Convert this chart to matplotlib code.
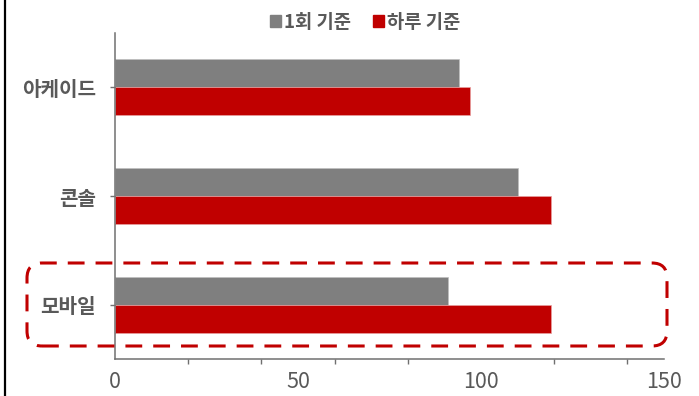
import matplotlib.pyplot as plt
from matplotlib.patches import Patch, FancyBboxPatch
from matplotlib.lines import Line2D
import numpy as np

plt.rcParams['font.family'] = ['Noto Sans CJK KR', 'DejaVu Sans']

categories = ['아케이드', '콘솔', '모바일']
series_names = ['1회 기준', '하루 기준']
once = [94, 110, 91]
daily = [97, 119, 119]
x_ticklabels = [0, 50, 100, 150]

gray = '#7f7f7f'
red = '#c00000'
text_col = '#595959'

fig = plt.figure(figsize=(6.99, 3.96), dpi=100)
ax = fig.add_axes([115 / 699, 1 - 359 / 396, (664 - 115) / 699, (359 - 33) / 396])

pos = np.arange(len(categories))
h = 0.258
ax.barh(pos - h / 2, once, height=h, color=gray, edgecolor='#bfbfbf', linewidth=0.5, label=series_names[0])
ax.barh(pos + h / 2, daily, height=h, color=red, edgecolor='#e8a0a0', linewidth=0.5, label=series_names[1])

ax.set_ylim(2.5, -0.5)
ax.set_xlim(0, 150)

ax.set_yticks(pos)
ax.set_yticklabels(categories, fontsize=14.5, fontweight='bold', color=text_col)
ax.tick_params(axis='y', length=3.6, width=1, color='#707070', pad=10)

ax.set_xticks(x_ticklabels)
ax.set_xticklabels([str(v) for v in x_ticklabels], fontsize=15.5, color=text_col)
ax.tick_params(axis='x', which='major', length=0, pad=9)
ax.set_xticks(np.arange(0, 141, 20), minor=True)
ax.tick_params(axis='x', which='minor', length=3.6, width=1, color='#707070')

for s in ['top', 'right']:
    ax.spines[s].set_visible(False)
for s in ['left', 'bottom']:
    ax.spines[s].set_color('#707070')
    ax.spines[s].set_linewidth(1.1)

handles = [Patch(color=gray), Patch(color=red)]
leg = fig.legend(handles, series_names, loc='center', bbox_to_anchor=(365 / 699, 1 - 22 / 396),
                 ncol=2, frameon=False, handlelength=0.6, handleheight=0.6, handletextpad=0.15,
                 columnspacing=1.2, prop={'size': 13.5, 'weight': 'bold'})
for t in leg.get_texts():
    t.set_color(text_col)

# dashed highlight around 모바일
box = FancyBboxPatch((0.27, 0.50), 6.40, 0.83, boxstyle='round,pad=0,rounding_size=0.15',
                     transform=fig.dpi_scale_trans, fill=False, edgecolor=red,
                     linewidth=2.2, linestyle=(0, (5.5, 3.6)), clip_on=False)
fig.patches.append(box)

fig.lines.append(Line2D([5 / 699, 5 / 699], [0, 1], transform=fig.transFigure, color='black', linewidth=1.6))

fig.savefig('out.png', dpi=100)
